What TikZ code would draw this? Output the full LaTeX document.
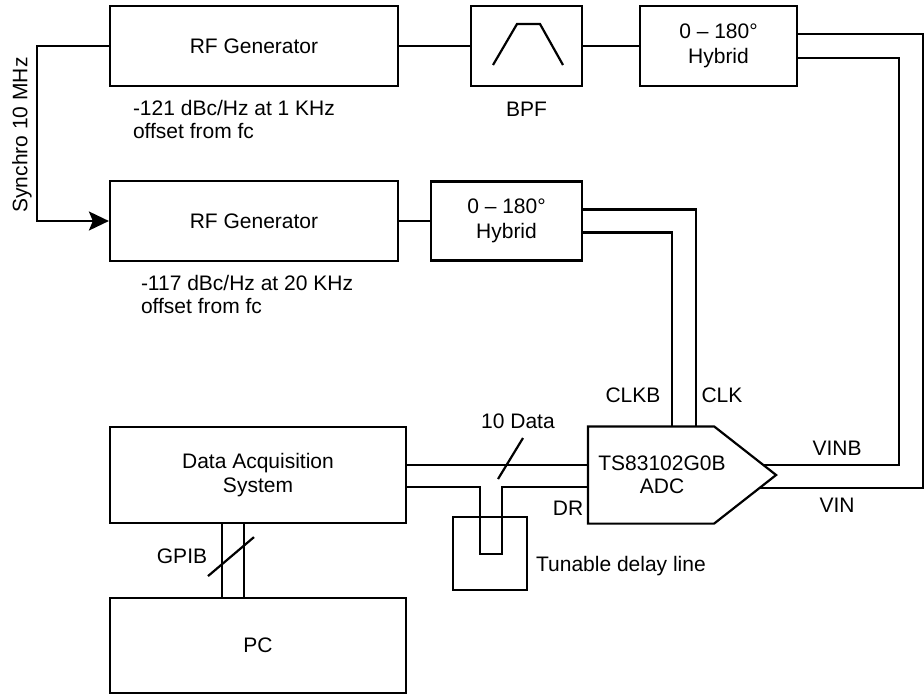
\documentclass[tikz,border=0pt]{standalone}
\usepackage{fontspec}
\setmainfont{Liberation Sans}
\usetikzlibrary{positioning}
\usetikzlibrary{calc}
\usetikzlibrary{arrows.meta}
\tikzset{>={Stealth[length=20pt,width=19pt,inset=4pt]}}
\tikzset{blk/.style={draw, rectangle, inner sep=0pt, align=center, font=\fontsize{21}{24.5}\selectfont}}
\tikzset{lbl/.style={inner sep=0pt, align=left, font=\fontsize{21}{23.5}\selectfont}}

\begin{document}
\begin{tikzpicture}[x=1pt, y=-1pt, line width=2.2pt]
        \useasboundingbox (0,0) rectangle (924,696);

        \node[blk, minimum width=288pt, minimum height=80pt] (gen1) at (254,46) {RF Generator};
        \node[blk, minimum width=288pt, minimum height=80pt] (gen2) at (254,221) {RF Generator};
        \node[blk, minimum width=111pt, minimum height=80pt] (bpf) at (526.5,46) {};
        \node[blk, minimum width=157pt, minimum height=80pt] (hyb1) at (718.5,46) {0 – 180°\\Hybrid};
        \node[blk, minimum width=151pt, minimum height=79pt] (hyb2) at (506.5,221) {0 – 180°\\Hybrid};
        \node[blk, minimum width=296pt, minimum height=96pt] (das) at (258,475) {Data Acquisition\\System};
        \node[blk, minimum width=296pt, minimum height=95pt] (pc) at (258,645.5) {PC};
        \node[blk, minimum width=74pt, minimum height=73pt] (dly) at (490,553.5) {};

        % adc outline
        \node[minimum width=124pt, minimum height=95pt, inner sep=0pt] (adc) at (651,475) {};
        \draw (adc.north west) -- (adc.north east) -- ($(adc.east)+(62,0)$) coordinate (tip)
         -- (adc.south east) -- (adc.south west) -- cycle;
        \node[lbl, align=center] (adctxt) at ($(adc.center)+(11,0)$) {TS83102G0B\\ADC};

        \coordinate (vinb) at ($(tip)!0.2!(adc.north east)$);
        \coordinate (vin) at ($(tip)!0.26!(adc.south east)$);
        \coordinate (clkb) at ($(adc.north west)+(84,0)$);
        \coordinate (clk) at ($(adc.north west)+(108,0)$);

        % bpf symbol
        \draw ($(bpf.center)+(-33.5,19)$) -- ++(24,-41) -- ++(23,0) -- ++(23,41);

        \node[lbl, below right=12pt and 23pt of gen1.south west] (n1) {-121 dBc/Hz at 1 KHz\\offset from fc};
        \node[lbl, below right=12pt and 31pt of gen2.south west] (n2) {-117 dBc/Hz at 20 KHz\\offset from fc};
        \node[lbl, below=14pt of bpf] (nbpf) {BPF};
        \node[lbl, rotate=90] (nsync) at (22,135) {Synchro 10 MHz};

        \node[lbl] (nclkb) at (633,395) {CLKB};
        \node[lbl] (nclk) at (722,395) {CLK};
        \node[lbl] (nvinb) at (837,448) {VINB};
        \node[lbl] (nvin) at (837,505) {VIN};
        \node[lbl] (ndr) at (568,508) {DR};
        \node[lbl] (ndata) at (518,421.5) {10 Data};
        \node[lbl] (ngpib) at (182,556) {GPIB};
        \node[lbl, anchor=west] (ndly) at (535,566) {Tunable delay line};

        \draw (gen1) -- (bpf);
        \draw (bpf) -- (hyb1);
        \draw (gen2) -- (hyb2);
        \draw [->] (gen1.west) -- ++(-72,0) |- (gen2.west);

        \draw ($(hyb1.east)+(0,-12)$) -- ++(125,0) |- (vin);
        \draw ($(hyb1.east)+(0,12)$) -- ++(101,0) |- (vinb);
        \draw ($(hyb2.east)+(0,-11.5)$) -| (clk);
        \draw ($(hyb2.east)+(0,11.5)$) -| (clkb);

        \draw ($(das.east)+(0,-10)$) -- ($(adc.west)+(0,-10)$);
        \draw ($(das.east)+(0,12)$) -- ++(73,0) -- ++(0,67) -- ++(22,0) |- ($(adc.west)+(0,12)$);
        \draw ($(ndata.south)+(5,8)$) -- ++(-25,41);

        \draw ($(das.south)+(-36,0)$) -- ($(pc.north)+(-36,0)$);
        \draw ($(das.south)+(-14,0)$) -- ($(pc.north)+(-14,0)$);
        \draw ($(das.south)+(-50,52)$) -- ++(46,-39);
    \end{tikzpicture}
\end{document}
